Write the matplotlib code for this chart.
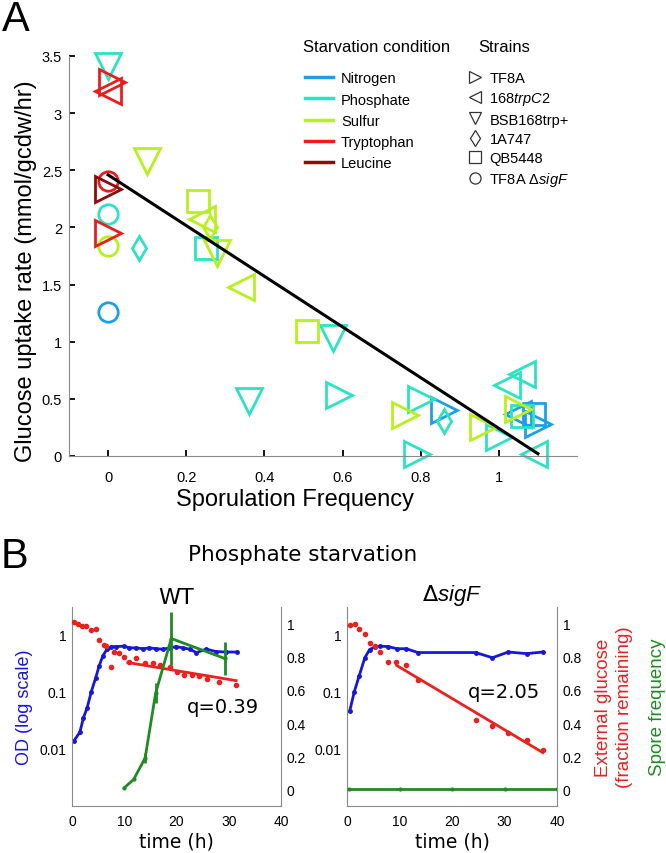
import matplotlib
matplotlib.use("Agg")
import matplotlib.pyplot as plt
import matplotlib.ticker as ticker
from matplotlib.lines import Line2D

plt.rcParams["font.family"] = ["Liberation Sans", "DejaVu Sans"]
plt.rcParams["mathtext.fontset"] = "custom"
plt.rcParams["mathtext.rm"] = "Liberation Sans"
plt.rcParams["mathtext.it"] = "Liberation Sans:italic"

# ── panel A data ─────────────────────────────────────────────────────────────
conditions = ["Nitrogen", "Phosphate", "Sulfur", "Tryptophan", "Leucine"]
cond_colors = ["#1ba0e8", "#2be3c3", "#b8f01c", "#ec1c1c", "#8c0b0b"]
strains = ["TF8A", "168$\\it{trpC2}$", "BSB168trp+", "1A747", "QB5448",
           "TF8A Δ$\\it{sigF}$"]
strain_markers = [">", "<", "v", "d", "s", "o"]

spo_freq = [0.00, 0.86, 1.05, 1.09, 1.10,
            0.00, 0.00, 0.08, 0.25, 0.36, 0.575, 0.59, 0.80, 0.79, 0.86,
            1.00, 1.02, 1.06, 1.06, 1.09,
            0.00, 0.10, 0.23, 0.24, 0.26, 0.28, 0.34, 0.51, 0.76, 0.96, 1.05,
            0.01, 0.00, 0.00, 0.00,
            0.00]
glc_rate = [1.26, 0.40, 0.37, 0.37, 0.28,
            3.41, 2.12, 1.82, 1.82, 0.48, 1.03, 0.53, 0.50, 0.02, 0.31,
            0.17, 0.62, 0.72, 0.35, 0.02,
            1.84, 2.58, 2.23, 2.07, 2.00, 1.78, 1.48, 1.09, 0.36, 0.25, 0.41,
            3.27, 3.19, 2.41, 1.95,
            2.34]
cond_of = [0] * 5 + [1] * 15 + [2] * 11 + [3] * 4 + [4]
strain_of = [5, 0, 1, 4, 0,
             2, 5, 3, 4, 2, 2, 0, 0, 0, 3, 0, 1, 1, 4, 1,
             5, 2, 4, 1, 3, 2, 1, 4, 0, 0, 0,
             0, 1, 5, 0,
             0]

fit_x = [0.0, 1.10]
fit_y = [2.46, 0.02]

# ── panel B data ─────────────────────────────────────────────────────────────
wt_od_t = [0.3, 1.5, 2.2, 2.9, 3.7, 4.5, 5.2, 5.9, 6.7, 7.5, 8.5, 9.9, 11.0,
           12.3, 13.6, 14.8, 16.1, 17.4, 18.7, 19.9, 21.2, 22.5, 23.8, 25.7,
           27.6, 29.5, 31.5]
wt_od = [0.0135, 0.0194, 0.035, 0.052, 0.10, 0.17, 0.28, 0.42, 0.55, 0.61,
         0.61, 0.62, 0.58, 0.58, 0.56, 0.58, 0.56, 0.55, 0.58, 0.61, 0.58,
         0.55, 0.48, 0.55, 0.50, 0.49, 0.49]
wt_glc_t = [0.3, 1.15, 2.0, 2.6, 3.7, 4.6, 5.2, 6.1, 6.6, 7.5, 8.1, 9.0, 9.9,
            10.9, 12.3, 13.9, 15.5, 16.9, 18.7, 20.1, 21.5, 23.0, 24.4, 25.8,
            28.2, 31.4]
wt_glc = [1.01, 1.00, 0.986, 0.986, 0.96, 0.97, 0.90, 0.87, 0.865, 0.74,
          0.83, 0.82, 0.80, 0.77, 0.79, 0.76, 0.76, 0.75, 0.74, 0.71, 0.69,
          0.687, 0.683, 0.667, 0.646, 0.63]
wt_fit_t = [10.7, 31.4]
wt_fit = [0.765, 0.656]
wt_spore_t = [10.0, 11.8, 14.0, 16.0, 19.0, 29.2]
wt_spore = [0.01, 0.06, 0.19, 0.58, 0.91, 0.79]
wt_spore_err = [0.0, 0.0, 0.03, 0.06, 0.16, 0.10]

sig_od_t = [0.5, 1.4, 2.3, 3.4, 4.3, 5.4, 6.3, 7.9, 9.5, 11.3, 13.5, 24.5,
            27.7, 30.7, 34.2, 37.3]
sig_od = [0.045, 0.10, 0.186, 0.39, 0.54, 0.61, 0.62, 0.61, 0.56, 0.56,
          0.48, 0.48, 0.39, 0.49, 0.46, 0.49]
sig_glc_t = [0.5, 1.5, 2.3, 3.4, 4.4, 5.4, 6.3, 7.9, 9.4, 11.3, 13.5, 24.5,
             27.7, 30.7, 34.2, 37.3]
sig_glc = [0.99, 1.00, 0.97, 0.94, 0.88, 0.865, 0.83, 0.77, 0.77, 0.75, 0.66,
           0.42, 0.38, 0.34, 0.30, 0.24]
sig_fit_t = [9.5, 37.3]
sig_fit = [0.747, 0.222]
sig_spore_t = [0.3, 10.0, 20.0, 30.0, 40.0]
sig_spore = [0.0, 0.0, 0.0, 0.0, 0.0]
sig_spore_err = [0.0, 0.0, 0.0, 0.0, 0.0]

BLUE, RED, GREEN = "#1616dc", "#ee1f1f", "#1e8c1e"
GREY = "#8a8a8a"

fig = plt.figure(figsize=(6.66, 8.54), dpi=100)

# ── A: uptake vs sporulation ─────────────────────────────────────────────────
ax = fig.add_axes([69 / 666, 1 - 457 / 854, 508 / 666, 400 / 854])
for x, y, c, s in zip(spo_freq, glc_rate, cond_of, strain_of):
    m = strain_markers[s]
    ms = {">": 19, "<": 19, "v": 19, "d": 12, "s": 16, "o": 14}[m]
    ax.plot(x, y, ls="none", marker=m, ms=ms, mfc="none",
            mec=cond_colors[c], mew=2.0, clip_on=False)
ax.plot(fit_x, fit_y, color="black", lw=2.2, zorder=5)
ax.set_xlim(-0.1, 1.2)
ax.set_ylim(0, 3.5)
ax.set_xticks([0, 0.2, 0.4, 0.6, 0.8, 1.0])
ax.set_xticklabels(["0", "0.2", "0.4", "0.6", "0.8", "1"])
ax.set_yticks([0, 0.5, 1, 1.5, 2, 2.5, 3, 3.5])
ax.set_yticklabels(["0", "0.5", "1", "1.5", "2", "2.5", "3", "3.5"])
ax.tick_params(direction="in", length=4, width=1.3, color="black",
               labelsize=10.5)
ax.tick_params(axis="x", pad=10)
ax.tick_params(axis="y", pad=5)
for side in ["top", "right"]:
    ax.spines[side].set_visible(False)
for side in ["left", "bottom"]:
    ax.spines[side].set_color(GREY)
ax.set_xlabel("Sporulation Frequency", fontsize=17)
ax.xaxis.set_label_coords(0.445, -0.08)
ax.set_ylabel("Glucose uptake rate (mmol/gcdw/hr)", fontsize=17)
ax.yaxis.set_label_coords(-0.063, 0.465)

# legends: titles as separate text, entries via legend()
fig.text(303 / 666, 1 - 48 / 854, "Starvation condition", fontsize=12,
         ha="left", va="center")
fig.text(478 / 666, 1 - 48 / 854, "Strains", fontsize=12,
         ha="left", va="center")
cond_handles = [Line2D([], [], color=c, lw=2.5) for c in cond_colors]
leg1 = ax.legend(cond_handles, conditions,
                 loc="upper left", bbox_to_anchor=(298 / 666, 1 - 65 / 854),
                 bbox_transform=fig.transFigure, frameon=False, fontsize=10.5,
                 handlelength=1.9, handletextpad=0.55,
                 labelspacing=0.5, borderpad=0)
ax.add_artist(leg1)
strain_handles = [Line2D([], [], ls="none", marker=m, ms=8, mfc="none",
                         mec="#333333", mew=0.9) for m in strain_markers]
ax.legend(strain_handles, strains, loc="upper left",
          bbox_to_anchor=(461 / 666, 1 - 65 / 854),
          bbox_transform=fig.transFigure, frameon=False, fontsize=10.5,
          handlelength=0.9, handletextpad=0.55,
          labelspacing=0.35, borderpad=0)


# ── B: growth curves under phosphate starvation ──────────────────────────────
def draw_growth(rect, od_t, od, glc_t, glc, fit_t, fit, sp_t, sp, sp_err,
                q_label, q_xy, title):
    ax = fig.add_axes(rect)
    ax.plot(od_t, od, color=BLUE, lw=2, marker=".", ms=5)
    ax.set_yscale("log")
    ax.set_ylim(1e-3, 3)
    ax.set_xlim(0, 40)
    ax.set_yticks([0.01, 0.1, 1])
    ax.yaxis.set_major_formatter(ticker.FixedFormatter(["0.01", "0.1", "1"]))
    ax.yaxis.set_minor_locator(ticker.NullLocator())
    ax.set_xticks([0, 10, 20, 30, 40])
    ax.tick_params(length=0, labelsize=10, pad=4)
    ax.tick_params(axis="x", pad=6)
    for side in ["top", "right"]:
        ax.spines[side].set_visible(False)
    for side in ["left", "bottom"]:
        ax.spines[side].set_color(GREY)
    ax.set_xlabel("time (h)", fontsize=13.5, family="DejaVu Sans", labelpad=2)
    ax.set_title(title, fontsize=16, family="DejaVu Sans", pad=2)

    ax2 = ax.twinx()
    ax2.plot(glc_t, glc, ls="none", marker=".", ms=6, color=RED)
    ax2.plot(fit_t, fit, color=RED, lw=2)
    ax2.errorbar(sp_t, sp, yerr=sp_err, color=GREEN, lw=2, elinewidth=2,
                 marker=".", ms=4, capsize=0)
    ax2.set_ylim(-0.1, 1.1)
    ax2.set_yticks([0, 0.2, 0.4, 0.6, 0.8, 1.0])
    ax2.set_yticklabels(["0", "0.2", "0.4", "0.6", "0.8", "1"])
    ax2.tick_params(length=0, labelsize=10, pad=4)
    for side in ["top", "left", "bottom"]:
        ax2.spines[side].set_visible(False)
    ax2.spines["right"].set_color(GREY)
    ax2.text(q_xy[0], q_xy[1], q_label, fontsize=14, family="DejaVu Sans",
             ha="left", va="center")
    return ax, ax2


axl, axl2 = draw_growth([72 / 666, 47 / 854, 209 / 666, 199 / 854],
                        wt_od_t, wt_od, wt_glc_t, wt_glc, wt_fit_t, wt_fit,
                        wt_spore_t, wt_spore, wt_spore_err,
                        "q=0.39", (22, 0.50), "WT")
axl.set_ylabel("OD (log scale)", color=BLUE, fontsize=13, labelpad=5)

axr, axr2 = draw_growth([347 / 666, 47 / 854, 210 / 666, 199 / 854],
                        sig_od_t, sig_od, sig_glc_t, sig_glc, sig_fit_t,
                        sig_fit, sig_spore_t, sig_spore, sig_spore_err,
                        "q=2.05", (23, 0.59), "Δ$\\it{sigF}$")
axr2.text(1.27, 0.5, "External glucose\n(fraction remaining)", color=RED,
          fontsize=13.5, rotation=90, ha="center", va="center",
          linespacing=1.3, transform=axr2.transAxes)
axr2.text(1.48, 0.5, "Spore frequency", color=GREEN, fontsize=13.5,
          rotation=90, ha="center", va="center", transform=axr2.transAxes)

fig.text(303 / 666, 1 - 555 / 854, "Phosphate starvation", fontsize=15.5,
         family="DejaVu Sans", ha="center", va="center")
fig.text(16 / 666, 1 - 20 / 854, "A", fontsize=30, ha="center", va="center")
fig.text(15 / 666, 1 - 557 / 854, "B", fontsize=30, ha="center", va="center")

fig.savefig("out.png", dpi=100)
